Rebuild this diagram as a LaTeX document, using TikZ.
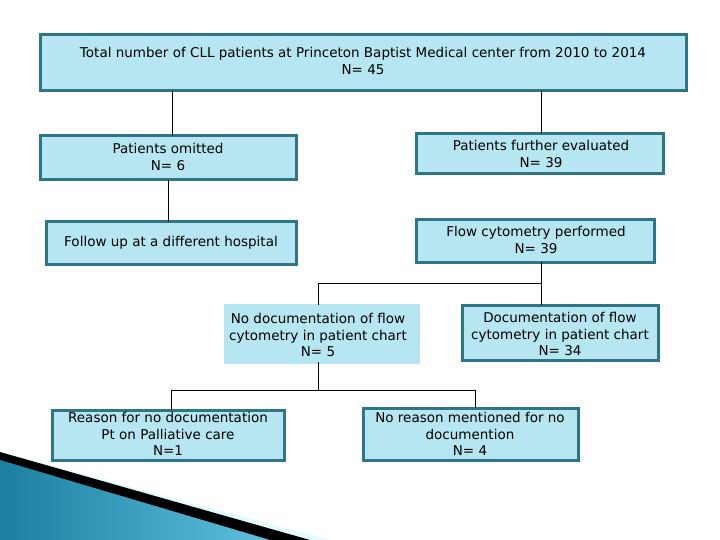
\documentclass[tikz,border=0pt]{standalone}
\usepackage{fontspec}
\setmainfont{DejaVu Sans}
\begin{document}
\begin{tikzpicture}[x=1pt,y=-1pt,
 box/.style={draw=boxborder,line width=3pt,fill=boxfill,inner sep=0pt},
 txt/.style={font=\fontsize{13.5}{16.5}\selectfont,align=center,text=black,inner sep=0pt},
 ln/.style={draw=black,line width=0.7pt}]
\definecolor{boxfill}{HTML}{B5E6F1}
\definecolor{boxborder}{HTML}{2E7587}
\definecolor{tealA}{HTML}{1C7FA0}
\definecolor{tealB}{HTML}{5EC0DD}
\useasboundingbox (0,0) rectangle (720,540);
% decoration
\fill[blue!8!cyan!12] (0,452) -- (330,540) -- (0,540) -- cycle;
\fill[black] (0,452) -- (310,540) -- (0,540) -- cycle;
\shade[left color=tealA,right color=tealB] (0,460) -- (270,540) -- (0,540) -- cycle;
% boxes
\path[box] (40,35) rectangle (686,91);
\node[txt] (top) at (363,61) {Total number of CLL patients at Princeton Baptist Medical center from 2010 to 2014\\N= 45};
\path[box] (40,136) rectangle (296,180);
\node[txt] (om) at (168,157) {Patients omitted\\N= 6};
\path[box] (416,134) rectangle (663,174);
\node[txt] (fe) at (541,154) {Patients further evaluated\\N= 39};
\path[box] (46,222) rectangle (296,264);
\node[txt] (fu) at (171,243) {Follow up at a different hospital};
\path[box] (416,220) rectangle (654,262);
\node[txt] (fc) at (536,240) {Flow cytometry performed\\N= 39};
\path[box,draw=boxfill] (225,305) rectangle (418,362);
\node[txt] (nd) at (318,335) {No documentation of flow\\cytometry in patient chart\\N= 5};
\path[box] (462,305) rectangle (658,360);
\node[txt] (dc) at (560,334) {Documentation of flow\\cytometry in patient chart\\N= 34};
\path[box] (52,410) rectangle (284,460);
\node[txt] (rs) at (168,434) {Reason for no documentation\\Pt on Palliative care\\N=1};
\path[box] (363,408) rectangle (578,460);
\node[txt] (nr) at (470,434) {No reason  mentioned for no\\documention\\N= 4};
% connectors
\coordinate (a1) at (172,91); \coordinate (a2) at (172,136);
\coordinate (b1) at (541,91); \coordinate (b2) at (541,134);
\coordinate (c1) at (168,180); \coordinate (c2) at (168,222);
\coordinate (d1) at (541,262); \coordinate (d2) at (318,305); \coordinate (d3) at (541,305);
\coordinate (e1) at (318,362); \coordinate (e2) at (171,410); \coordinate (e3) at (475,408);
\draw[ln] (a1) -- (a2);
\draw[ln] (b1) -- (b2);
\draw[ln] (c1) -- (c2);
\draw[ln] (d1) -- (541,283) -| (d2);
\draw[ln] (541,283) -- (d3);
\draw[ln] (e1) -- (318,390) -| (e2);
\draw[ln] (318,390) -| (e3);
\end{tikzpicture}
\end{document}
